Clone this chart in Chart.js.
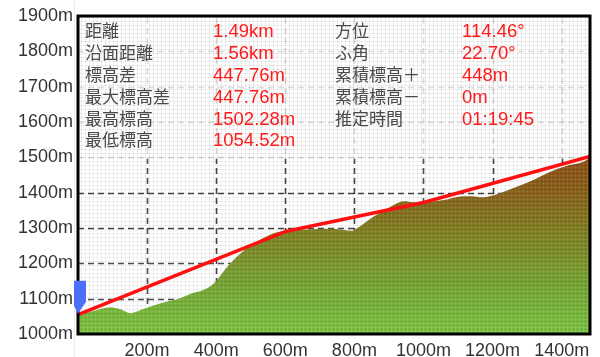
<!DOCTYPE html>
<html><head><meta charset="utf-8">
<script src="https://cdn.jsdelivr.net/npm/chart.js@4.4.1/dist/chart.umd.min.js"></script>
<style>html,body{margin:0;padding:0;background:#fff}#wrap{width:600px;height:357px}</style>
</head><body><div id="wrap"><canvas id="c" width="600" height="357"></canvas></div>
<script>
const terrainDist = [0, 46, 94, 123, 152, 181, 239, 296, 330, 364, 393, 432, 470, 518, 566, 605, 663, 730, 798, 808, 855, 904, 943, 971, 991, 1020, 1068, 1106, 1140, 1169, 1203, 1270, 1318, 1367, 1415, 1478, 1482];
const terrainElev = [1056, 1066, 1076, 1070, 1059, 1068, 1087, 1101, 1115, 1125, 1143, 1190, 1228, 1261, 1285, 1292, 1296, 1298, 1292, 1299, 1332, 1360, 1376, 1373, 1371, 1374, 1381, 1389, 1390, 1387, 1393, 1417, 1436, 1459, 1476, 1497, 1502];
const routeDist = [0, 600, 1000, 1482];
const routeElev = [1054.52, 1290, 1372, 1502.28];
const xMax = 1482;
const yMin = 1000, yMax = 1900;
const infoLabelsL = ['距離', '沿面距離', '標高差', '最大標高差', '最高標高', '最低標高'];
const infoValuesL = ['1.49km', '1.56km', '447.76m', '447.76m', '1502.28m', '1054.52m'];
const infoLabelsR = ['方位', 'ふ角', '累積標高＋', '累積標高－', '推定時間'];
const infoValuesR = ['114.46°', '22.70°', '448m', '0m', '01:19:45'];

const NUMFONT = '"Liberation Sans", "Noto Sans CJK JP", sans-serif';
const JPFONT = '"Noto Sans CJK JP", "Liberation Sans", sans-serif';

const pc = document.createElement('canvas'); pc.width = 4; pc.height = 4;
const pctx = pc.getContext('2d');
pctx.fillStyle = 'rgba(0,0,0,0.06)';
pctx.fillRect(0,1,4,1); pctx.fillRect(1,0,1,4);
pctx.fillStyle = 'rgba(255,255,255,0.06)';
pctx.fillRect(0,3,4,1); pctx.fillRect(3,0,1,4);
const ctx0 = document.getElementById('c').getContext('2d');
const pattern = ctx0.createPattern(pc, 'repeat');

function terrainFill(context){
  const chart = context.chart; const a = chart.chartArea;
  if(!a) return '#7a8a2a';
  const y = chart.scales.y;
  const g = chart.ctx.createLinearGradient(0, y.getPixelForValue(1000), 0, y.getPixelForValue(1500));
  g.addColorStop(0, '#7cc443');
  g.addColorStop(0.25, '#76a835');
  g.addColorStop(0.5, '#7d8a27');
  g.addColorStop(0.62, '#817a1f');
  g.addColorStop(0.8, '#88611a');
  g.addColorStop(1, '#8f4f12');
  return g;
}

const deco = {
  id: 'deco',
  beforeDatasetsDraw(chart){
    const {ctx, chartArea: a, scales} = chart;
    ctx.save();
    ctx.strokeStyle = 'rgba(45,45,45,0.9)'; ctx.lineWidth = 1.6;
    ctx.setLineDash([6,4]);
    scales.y.ticks.forEach(t => {
      const y = Math.round(scales.y.getPixelForValue(t.value)) + 0.5;
      if (t.value === yMin || t.value === yMax) return;
      ctx.beginPath(); ctx.moveTo(a.left, y); ctx.lineTo(a.right, y); ctx.stroke();
    });
    scales.x.ticks.forEach(t => {
      if (t.value === 0) return;
      const x = Math.round(scales.x.getPixelForValue(t.value)) + 0.5;
      ctx.beginPath(); ctx.moveTo(x, a.bottom); ctx.lineTo(x, a.top); ctx.stroke();
    });
    ctx.restore();
  },
  afterDatasetDraw(chart, args){
    if(args.index !== 1) return;
    const {ctx, chartArea: a} = chart;
    ctx.save();
    ctx.fillStyle = pattern; ctx.fillRect(a.left, a.top, a.width, a.height);
    const y15 = chart.scales.y.getPixelForValue(1500);
    const h = y15 + 1.5 - a.top;
    ctx.fillStyle = 'rgba(255,255,255,0.8)';
    ctx.fillRect(a.left, a.top, a.width, h);
    ctx.fillStyle = pattern;
    ctx.fillRect(a.left, a.top, a.width, h);
    ctx.restore();
  },
  afterDraw(chart){
    const {ctx, chartArea: a} = chart;
    ctx.save();
    ctx.strokeStyle = '#ececec'; ctx.lineWidth = 1;
    ctx.beginPath(); ctx.moveTo(74.5, 0); ctx.lineTo(74.5, 357); ctx.stroke();
    ctx.strokeStyle = '#000'; ctx.lineWidth = 3;
    ctx.strokeRect(a.left, a.top, a.width, a.height);
    ctx.textBaseline = 'middle'; ctx.textAlign = 'left';
    const rowY = [31, 53, 75, 97, 118.5, 140];
    infoLabelsL.forEach((t,i)=>{ ctx.font = '17px ' + JPFONT; ctx.fillStyle = '#4a4a4a'; ctx.fillText(t, 85, rowY[i]); });
    infoValuesL.forEach((t,i)=>{ ctx.font = '18.5px ' + NUMFONT; ctx.fillStyle = '#ff1a1a'; ctx.fillText(t, 213, rowY[i]+1); });
    infoLabelsR.forEach((t,i)=>{ ctx.font = '17px ' + JPFONT; ctx.fillStyle = '#4a4a4a'; ctx.fillText(t, 335, rowY[i]); });
    infoValuesR.forEach((t,i)=>{ ctx.font = '18.5px ' + NUMFONT; ctx.fillStyle = '#ff1a1a'; ctx.fillText(t, 462, rowY[i]+1); });
    const px = chart.scales.x.getPixelForValue(routeDist[0]);
    const py = chart.scales.y.getPixelForValue(routeElev[0]);
    ctx.fillStyle = '#4b6ff6';
    ctx.beginPath();
    ctx.moveTo(px - 4, py - 34);
    ctx.lineTo(px + 8, py - 34);
    ctx.lineTo(px + 8, py - 13);
    ctx.lineTo(px, py - 1);
    ctx.lineTo(px - 4, py - 9);
    ctx.closePath(); ctx.fill();
    ctx.restore();
  }
};

new Chart(ctx0, {
  type: 'line',
  data: {
    datasets: [
      {
        label: 'route',
        data: routeDist.map((d,i)=>({x:d, y:routeElev[i]})),
        borderColor: '#ff1010', borderWidth: 3.5, fill: false, tension: 0,
        pointRadius: c => c.dataIndex === routeDist.length - 1 ? 2.5 : 0,
        pointBackgroundColor: '#ff1010', pointBorderWidth: 0,
        borderCapStyle: 'round', borderJoinStyle: 'round'
      },
      {
        label: 'terrain',
        data: terrainDist.map((d,i)=>({x:d, y:terrainElev[i]})),
        borderWidth: 0, borderColor: 'rgba(0,0,0,0)',
        backgroundColor: terrainFill, fill: 'start',
        pointRadius: 0, cubicInterpolationMode: 'monotone'
      }
    ]
  },
  options: {
    responsive: false, animation: false, devicePixelRatio: 1,
    layout: { padding: { top: 16, right: 10, left: 0, bottom: 0 } },
    plugins: { legend: { display: false }, tooltip: { enabled: false } },
    scales: {
      x: {
        type: 'linear', min: 0, max: xMax,
        border: { display: false },
        grid: { display: false, drawTicks: false },
        ticks: { stepSize: 200, includeBounds: false, padding: 6, maxRotation: 0, autoSkip: false,
          color: '#333', font: { family: NUMFONT, size: 18 },
          callback: v => v === 0 ? '' : v + 'm' },
        afterFit: s => { s.height = 23; }
      },
      y: {
        type: 'linear', min: yMin, max: yMax,
        border: { display: false },
        grid: { display: false, drawTicks: false },
        ticks: { stepSize: 100, padding: 5, color: '#333', font: { family: NUMFONT, size: 18 },
          callback: v => v + 'm' },
        afterFit: s => { s.width = 78; }
      }
    }
  },
  plugins: [deco]
});
</script>
</body></html>
